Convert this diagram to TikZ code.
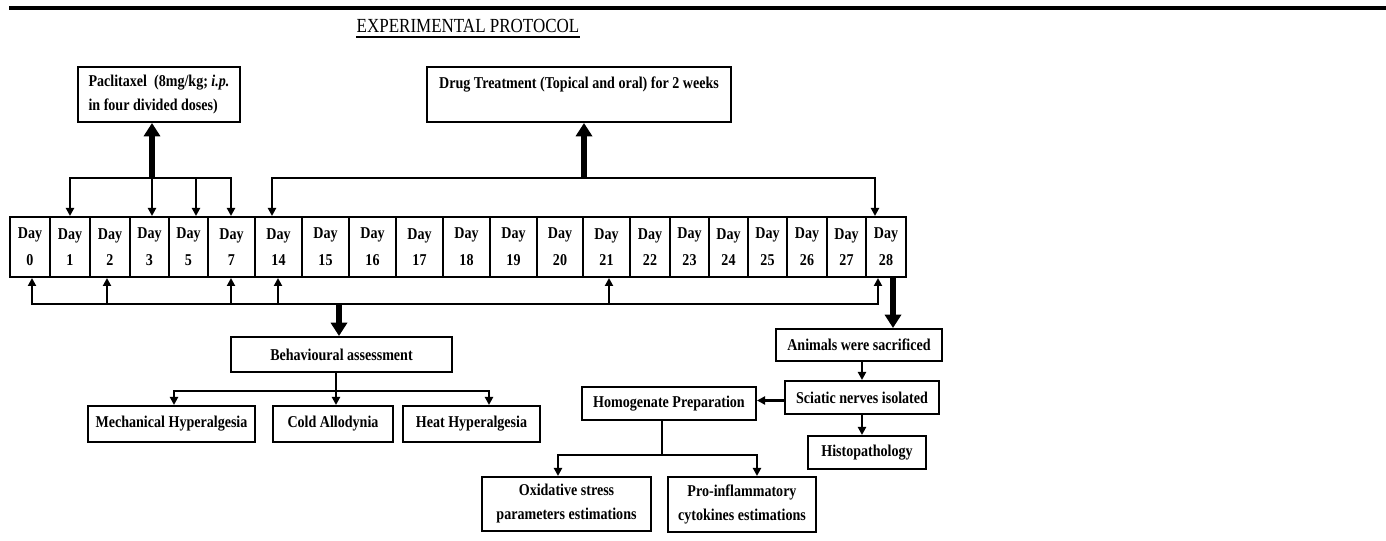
\documentclass[tikz,border=0pt]{standalone}
\usepackage{fontspec}
\setmainfont{Liberation Serif}[FakeStretch=0.85]
\usepackage{tikz}
\usetikzlibrary{arrows.meta, calc}
\tikzset{
    % Box styles
    stagebox/.style={
        rectangle,
        draw=black,
        fill=white,
        line width=1.5pt,
        inner sep=0pt,
        align=center,
        font=\bfseries\fontsize{12.4pt}{18pt}\selectfont
    },
    daybox/.style={
        stagebox,
        minimum height=45pt,
        font=\bfseries\fontsize{12.4pt}{20pt}\selectfont
    },
    % Arrow styles
    link/.style={
        line width=1.5pt,
        line join=miter,
        draw=black
    },
    arrow/.style={
        link,
        -{Triangle[width=6pt,length=6pt]}
    },
    twoarrow/.style={
        link,
        {Triangle[width=6pt,length=6pt]}-{Triangle[width=6pt,length=6pt]}
    },
    thickarrow/.style={
        -{Triangle[width=12pt,length=10pt]},
        line width=4.5pt,
        draw=black
    }
}

\begin{document}
\begin{tikzpicture}[x=0.75pt, y=-0.75pt]
    \useasboundingbox (0,0) rectangle (1386,541);

    % Header rule and title
    \draw[line width=2.5pt] (9,8) -- (1386,8);
    \node[font=\fontsize{15pt}{18pt}\selectfont, inner sep=0pt] (title) at (468,26) {EXPERIMENTAL PROTOCOL};
    \draw[line width=1.5pt] ($(title.base west)+(0,4)$) -- ($(title.base east)+(0,4)$);

    % Treatment boxes
    \node[stagebox, align=left, minimum width=121.5pt, minimum height=41.25pt] (pac) at (159,94.5)
        {Paclitaxel~ (8mg/kg; \textit{i.p.}\\in four divided doses)};
    \node[stagebox, align=left, minimum width=228pt, minimum height=41.25pt] (drug) at (579,94.5)
        {Drug Treatment (Topical and oral) for 2 weeks\\\mbox{}};

    % Time line
    \foreach \d/\a/\b in {0/10/50, 1/50/90, 2/90/130, 3/130/169, 5/169/208, 7/208/255,
        14/255/302, 15/302/349, 16/349/396, 17/396/443, 18/443/490, 19/490/537,
        20/537/583, 21/583/630, 22/630/670, 23/670/709, 24/709/748, 25/748/787,
        26/787/827, 27/827/866, 28/866/906}
        \node[daybox, minimum width={(\b-\a)*0.75pt}] (d\d) at ({(\a+\b)/2},247) {Day\\\d};

    % Paclitaxel dosing days
    \coordinate (u1) at (70,178);
    \coordinate (u3) at (152,178);
    \coordinate (u5) at (196,178);
    \coordinate (u7) at (231,178);
    \draw[twoarrow] (u1 |- d1.north) -- (u1) -- (u7) -- (u7 |- d7.north);
    \draw[arrow] (u3) -- (u3 |- d3.north);
    \draw[arrow] (u5) -- (u5 |- d5.north);
    \draw[thickarrow] (u3) -- (u3 |- pac.south);

    % Drug treatment period
    \coordinate (t14) at (272,178);
    \coordinate (t28) at (875,178);
    \coordinate (tx) at (584,178);
    \draw[twoarrow] (t14 |- d14.north) -- (t14) -- (t28) -- (t28 |- d28.north);
    \draw[thickarrow] (tx) -- (tx |- drug.south);

    % Behavioural assessment days
    \coordinate (b0) at (32,304);
    \coordinate (b2) at (107,304);
    \coordinate (b7) at (231,304);
    \coordinate (b14) at (278,304);
    \coordinate (b21) at (609,304);
    \coordinate (b28) at (878,304);
    \coordinate (bx) at (339,304);
    \draw[twoarrow] (b0 |- d0.south) -- (b0) -- (b28) -- (b28 |- d28.south);
    \foreach \d in {2,7,14,21}
        \draw[arrow] (b\d) -- (b\d |- d\d.south);

    % Behavioural branch
    \node[stagebox, minimum width=165.75pt, minimum height=26.25pt] (behav) at (341.5,354.5) {Behavioural assessment};
    \node[stagebox, minimum width=125.25pt, minimum height=27pt] (mech) at (171.5,424) {Mechanical Hyperalgesia};
    \node[stagebox, minimum width=90pt, minimum height=27pt] (cold) at (333,424) {Cold Allodynia};
    \node[stagebox, minimum width=102.75pt, minimum height=27pt] (heat) at (471.5,424) {Heat Hyperalgesia};
    \draw[thickarrow] (bx) -- (bx |- behav.north);
    \coordinate (bj) at (336,391);
    \coordinate (bl) at (174,391);
    \coordinate (br) at (489,391);
    \draw[link] (bj |- behav.south) -- (bj);
    \draw[twoarrow] (bl |- mech.north) -- (bl) -- (br) -- (br |- heat.north);
    \draw[arrow] (bj) -- (bj |- cold.north);

    % Sacrifice branch
    \node[stagebox, minimum width=124.5pt, minimum height=24pt] (animals) at (859,345) {Animals were sacrificed};
    \node[stagebox, minimum width=115.5pt, minimum height=24.75pt] (sciatic) at (862,397.5) {Sciatic nerves isolated};
    \node[stagebox, minimum width=88.5pt, minimum height=24.75pt] (histo) at (867,452.5) {Histopathology};
    \node[stagebox, minimum width=130.5pt, minimum height=24.75pt] (homog) at (669,403.5) {Homogenate Preparation};
    \node[stagebox, minimum width=126.75pt, minimum height=40.5pt] (oxid) at (566.5,504) {Oxidative stress\\parameters estimations};
    \node[stagebox, minimum width=111pt, minimum height=41.25pt] (cyto) at (742,504.5) {Pro-inflammatory\\cytokines estimations};
    \coordinate (k) at (893,0);
    \draw[thickarrow] (k |- d28.south) -- (k |- animals.north);
    \draw[arrow] (animals.south -| sciatic) -- (sciatic.north);
    \draw[arrow] (sciatic.south) -- (sciatic.south |- histo.north);
    \draw[arrow, line width=2.5pt] ($(sciatic.west)+(0,3)$) -- ($(sciatic.west -| homog.east)+(0,3)$);
    \coordinate (hj) at (662,455);
    \coordinate (hl) at (558,455);
    \coordinate (hr) at (757,455);
    \draw[link] (hj |- homog.south) -- (hj);
    \draw[twoarrow] (hl |- oxid.north) -- (hl) -- (hr) -- (hr |- cyto.north);
\end{tikzpicture}
\end{document}
